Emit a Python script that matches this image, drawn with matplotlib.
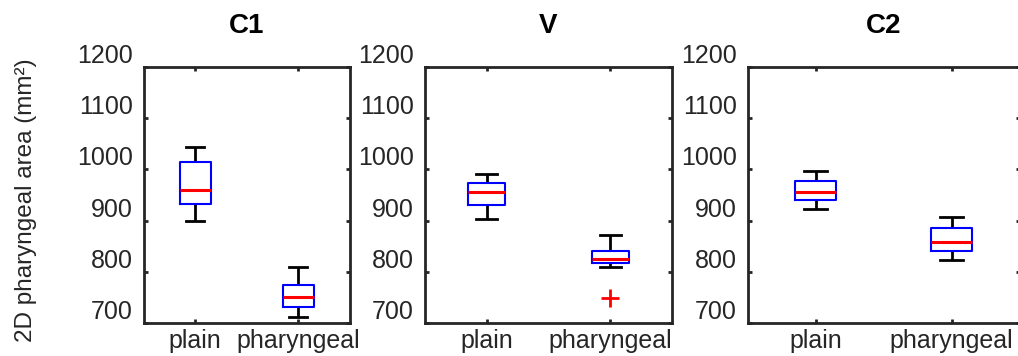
import matplotlib
matplotlib.use('Agg')
import matplotlib.pyplot as plt
from matplotlib.transforms import ScaledTranslation

plt.rcParams['font.family'] = ['Liberation Sans', 'DejaVu Sans']

# panel titles and groups
panels = ['C1', 'V', 'C2']
groups = ['plain', 'pharyngeal']

# box stats per panel: [plain, pharyngeal]
whislo = [[899, 712], [904, 809], [922, 824]]
q1 = [[932, 732], [930, 817], [940, 841]]
med = [[960, 751], [955, 825], [955, 858]]
q3 = [[1015, 774], [974, 841], [977, 886]]
whishi = [[1044, 810], [991, 872], [997, 907]]
fliers = [[[], []], [[], [750]], [[], []]]

yticks = [700, 800, 900, 1000, 1100, 1200]

fig = plt.figure(figsize=(10.18, 3.56), dpi=100)

# axes rectangles (left, bottom, width, height) in figure fractions
rects = [(0.1412, 0.0919, 0.2022, 0.7208),
         (0.4175, 0.0919, 0.2426, 0.7208),
         (0.7345, 0.0919, 0.2672, 0.7208)]

dark = '#262626'
for i, name in enumerate(panels):
    ax = fig.add_axes(rects[i])
    stats = []
    for j in range(2):
        stats.append(dict(whislo=whislo[i][j], q1=q1[i][j], med=med[i][j],
                          q3=q3[i][j], whishi=whishi[i][j], fliers=fliers[i][j]))
    ax.bxp(stats, positions=[1, 2], widths=0.3, capwidths=0.17,
           boxprops=dict(color='blue', linewidth=1.5, zorder=3),
           medianprops=dict(color='red', linewidth=2.2, zorder=4),
           whiskerprops=dict(color='black', linewidth=2, zorder=2,
                             solid_capstyle='butt'),
           capprops=dict(color='black', linewidth=2),
           flierprops=dict(marker='+', markeredgecolor='red', markersize=13,
                           markeredgewidth=2, linestyle='none'))
    ax.set_xlim(0.5, 2.5)
    ax.set_ylim(700, 1200)
    ax.set_xticks([1, 2])
    ax.set_xticklabels(groups, fontsize=18, color=dark)
    ax.set_yticks(yticks)
    ax.set_yticklabels([str(v) for v in yticks], fontsize=18, color=dark)
    ax.tick_params(direction='in', length=3, width=2, color=dark,
                   top=True, right=True, pad=8)
    ax.tick_params(axis='x', pad=4)
    for s in ax.spines.values():
        s.set_linewidth(2)
        s.set_color(dark)
    # tick labels sit a bit above their ticks in the original
    shift = ScaledTranslation(0, 13.5 / 100, fig.dpi_scale_trans)
    for lab in ax.get_yticklabels():
        lab.set_transform(lab.get_transform() + shift)
    ax.set_title(name, fontsize=20, fontweight='bold', pad=24)
    if i == 0:
        ax.set_ylabel('2D pharyngeal area (mm²)', fontsize=17.5, color=dark)
        ax.yaxis.set_label_coords(-0.52, 0.48)

fig.savefig('out.png', dpi=100)
